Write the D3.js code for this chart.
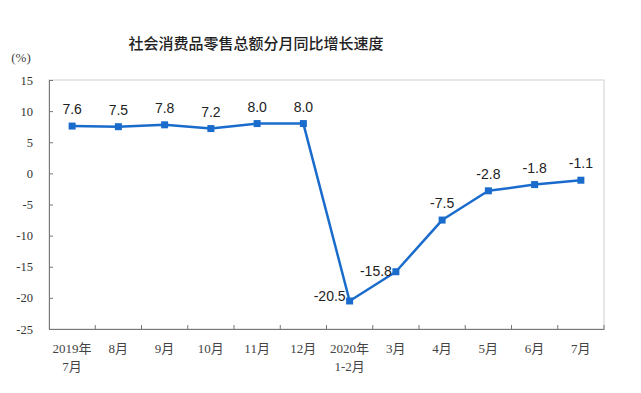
<!DOCTYPE html>
<html><head><meta charset="utf-8">
<script src="https://cdn.jsdelivr.net/npm/d3@7"></script>
<style>body{margin:0;background:#fff}svg{display:block}</style>
</head><body><svg id="c" width="641" height="393"></svg>
<script>
const title = "社会消费品零售总额分月同比增长速度";
const unitLabel = "(%)";
const categories = ["2019年\n7月","8月","9月","10月","11月","12月","2020年\n1-2月","3月","4月","5月","6月","7月"];
const values = [7.6,7.5,7.8,7.2,8.0,8.0,-20.5,-15.8,-7.5,-2.8,-1.8,-1.1];
const yTicks = [15,10,5,0,-5,-10,-15,-20,-25];

const svg = d3.select("#c");
const L=49,R=604,T=80,B=329;
const x = d3.scaleBand().domain(categories).range([L,R]);
const y = d3.scaleLinear().domain([-25,15]).range([B,T]);
const serif = "'Liberation Serif','DejaVu Serif',serif";
const cjk = "'Noto Sans CJK SC',sans-serif";
const mixed = "'Liberation Serif','Noto Sans CJK SC',serif";
const sans = "'Liberation Sans',Arial,sans-serif";

svg.append("text").attr("x",256).attr("y",49).attr("text-anchor","middle")
  .attr("font-family",cjk).attr("font-size",15).attr("font-weight",500).attr("fill","#222").text(title);
svg.append("text").attr("x",21).attr("y",62).attr("text-anchor","middle")
  .attr("font-family",serif).attr("font-size",13).attr("fill","#444").text(unitLabel);

// frame
svg.append("rect").attr("x",L).attr("y",T).attr("width",R-L).attr("height",B-T)
  .attr("fill","none").attr("stroke","#cfcfcf").attr("stroke-width",1);

// y axis
const ya = svg.append("g").attr("transform",`translate(${L},0)`)
  .call(d3.axisRight(y).tickValues(yTicks).tickSize(4).tickFormat(d=>String(d)));
ya.select(".domain").attr("stroke","#777");
ya.selectAll(".tick line").attr("stroke","#777");
ya.selectAll(".tick text").attr("x",-16).attr("text-anchor","end")
  .attr("font-family",serif).attr("font-size",12.5).attr("fill","#333");

// x axis
const xa = svg.append("g").attr("transform",`translate(0,${B})`)
  .call(d3.axisBottom(x).tickSize(0).tickFormat(""));
xa.select(".domain").attr("stroke","#777");
const bounds = d3.range(1,categories.length+1).map(i=>L+i*x.step());
xa.selectAll("line.b").data(bounds).join("line").attr("class","b")
  .attr("x1",d=>d).attr("x2",d=>d).attr("y1",0).attr("y2",-4).attr("stroke","#777");
categories.forEach(c=>{
  const lines=c.split("\n");
  lines.forEach((t,i)=>{
    xa.append("text").attr("x",x(c)+x.bandwidth()/2).attr("y",24+i*18)
      .attr("text-anchor","middle").attr("font-family",mixed).attr("font-size",13)
      .attr("fill","#444").text(t);
  });
});

const cx = c=>x(c)+x.bandwidth()/2;
const color="#1a6ccc";
const data = categories.map((c,i)=>({c,v:values[i]}));
svg.append("path").datum(data)
  .attr("d",d3.line().x(d=>cx(d.c)).y(d=>y(d.v)))
  .attr("fill","none").attr("stroke",color).attr("stroke-width",2.5).attr("stroke-linejoin","round");
svg.selectAll("rect.m").data(data).join("rect").attr("class","m")
  .attr("x",d=>cx(d.c)-3.5).attr("y",d=>y(d.v)-3.5).attr("width",7).attr("height",7).attr("fill",color);
svg.selectAll("text.l").data(data).join("text").attr("class","l")
  .attr("x",(d,i)=> (i===6||i===7)? cx(d.c)-4 : cx(d.c))
  .attr("y",(d,i)=> i===6? y(d.v)+0 : i===7? y(d.v)+4 : y(d.v)-12)
  .attr("text-anchor",(d,i)=> (i===6||i===7)? "end" : "middle")
  .attr("font-family",sans).attr("font-size",14).attr("fill","#222")
  .text(d=>d.v.toFixed(1));
</script></body></html>
